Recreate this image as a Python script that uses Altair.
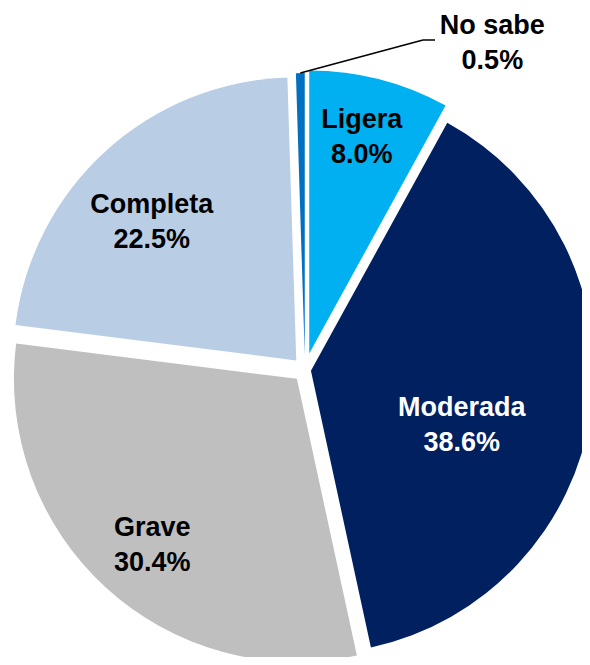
import altair as alt
import pandas as pd

# ---- data ----
categories = ["Ligera", "Moderada", "Grave", "Completa", "No sabe"]
values = [8.0, 38.6, 30.4, 22.5, 0.5]
value_labels = ["8.0%", "38.6%", "30.4%", "22.5%", "0.5%"]

# ---- styles / layout (kept apart from the data) ----
colors = ["#00B0F0", "#002060", "#BFBFBF", "#B9CDE5", "#0070C0"]
text_colors = ["#000000", "#FFFFFF", "#000000", "#000000", "#000000"]
explode = [17, 6, 12, 13, 14]          # px each slice is pulled out
label_radius = [240, 166, 232, 213, 377]
label_turn = [-0.7, 11, -1.3, -3.7, 30.7]  # degrees from slice middle
CX, CY, R = 297, 362, 283
ELBOW = (415, 32)
LEAD_END = (427, 32)
FONT = "Liberation Sans, Arial"

df = pd.DataFrame({
    "category": categories,
    "value": values,
    "vlabel": value_labels,
    "order": list(range(len(categories))),
    "explode": explode,
    "lr": label_radius,
    "lt": label_turn,
    "tcolor": text_colors,
})

base = alt.Chart(df).transform_joinaggregate(
    total="sum(value)"
).transform_window(
    cum="sum(value)", sort=[alt.SortField("order")], frame=[None, 0]
).transform_calculate(
    t0="2*PI*(datum.cum - datum.value)/datum.total",
    t1="2*PI*datum.cum/datum.total",
).transform_calculate(
    mid="(datum.t0 + datum.t1)/2",
).transform_calculate(
    px=f"{CX} + datum.explode*sin(datum.mid)",
    py=f"{CY} - datum.explode*cos(datum.mid)",
    la="datum.mid + datum.lt*PI/180",
    txt="datum.category + '\\n' + datum.vlabel",
).transform_calculate(
    lx=f"{CX} + datum.lr*sin(datum.la)",
    ly=f"{CY} - datum.lr*cos(datum.la)",
    tipx=f"datum.px + {R}*sin(datum.mid)",
    tipy=f"datum.py - {R}*cos(datum.mid)",
)

arcs = base.mark_arc(radius=R, stroke=None).encode(
    theta=alt.Theta("t0:Q", scale=None),
    theta2="t1:Q",
    x=alt.X("px:Q", scale=None, axis=None),
    y=alt.Y("py:Q", scale=None, axis=None),
    color=alt.Color("category:N",
                    scale=alt.Scale(domain=categories, range=colors),
                    legend=None),
)

texts = base.mark_text(
    font=FONT, fontSize=27, fontWeight="bold", lineBreak="\n",
    lineHeight=35, align="center", baseline="middle", dy=-17,
).encode(
    x=alt.X("lx:Q", scale=None, axis=None),
    y=alt.Y("ly:Q", scale=None, axis=None),
    text="txt:N",
    color=alt.Color("tcolor:N", scale=None),
)

lead1 = base.transform_filter(alt.datum.category == "No sabe").mark_rule(
    color="black", strokeWidth=1.5
).encode(
    x=alt.X("tipx:Q", scale=None, axis=None),
    y=alt.Y("tipy:Q", scale=None, axis=None),
    x2=alt.X2(datum=ELBOW[0]),
    y2=alt.Y2(datum=ELBOW[1]),
)

lead2 = base.transform_filter(alt.datum.category == "No sabe").mark_rule(
    color="black", strokeWidth=1.5
).encode(
    x=alt.value(ELBOW[0]),
    x2=alt.value(LEAD_END[0]),
    y=alt.value(ELBOW[1]),
)

chart = alt.layer(arcs, lead1, lead2, texts).properties(
    width=574, height=649, padding=0,
    autosize=alt.AutoSizeParams(type="none"),
).configure_view(stroke=None)

chart.save("out.html", embed_options={"renderer": "svg", "actions": False})
